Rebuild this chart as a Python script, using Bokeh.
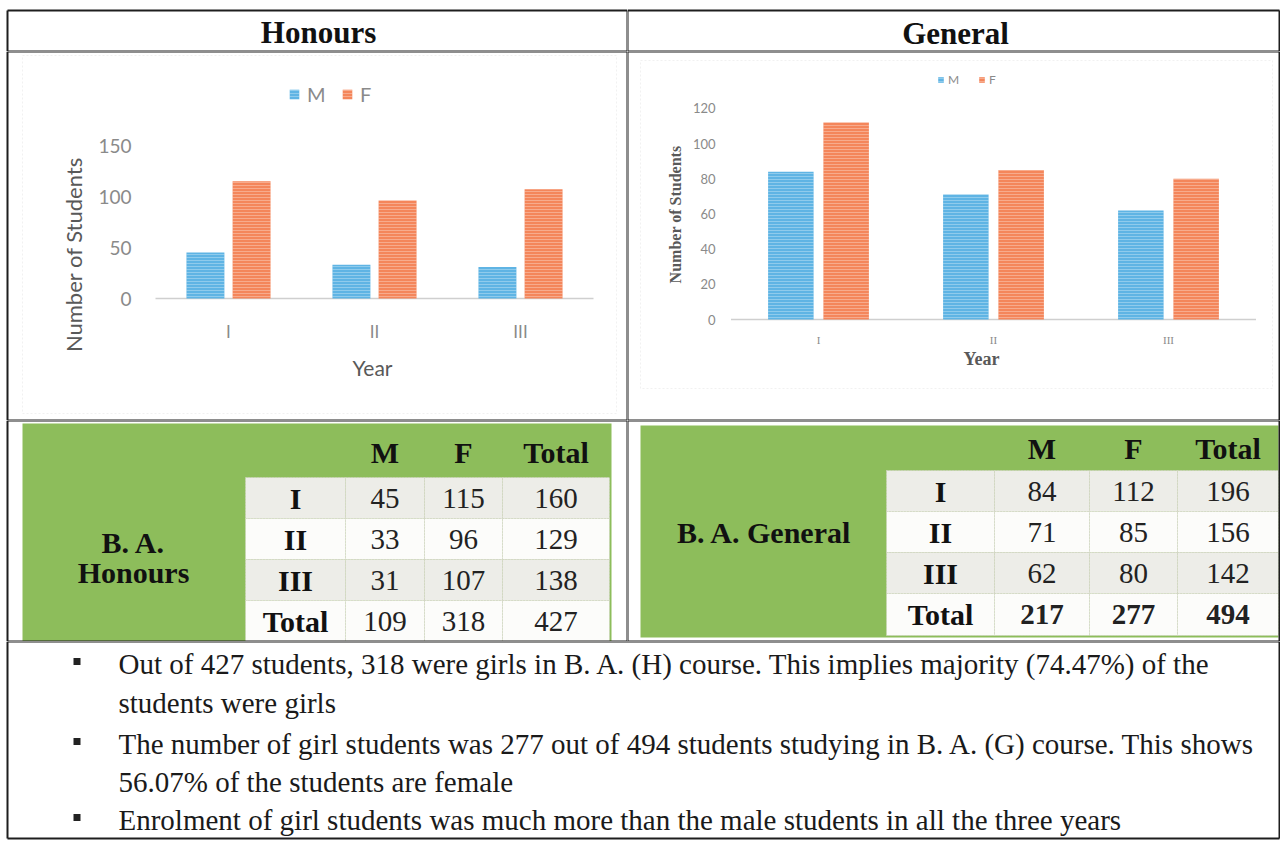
import math
from bokeh.plotting import figure
from bokeh.models import (Range1d, LinearAxis, FixedTicker, Legend, LegendItem,
                          Label, BoxAnnotation, ColumnDataSource)
from bokeh.layouts import column, row
from bokeh.transform import dodge
from bokeh.core.properties import value
from bokeh.embed import file_html
from bokeh.resources import INLINE

# ---------------- data ----------------
years = ["I", "II", "III"]
hons_m = [45, 33, 31]
hons_f = [115, 96, 107]
gen_m = [84, 71, 62]
gen_f = [112, 85, 80]
hons_ticks = [0, 50, 100, 150]
gen_ticks = [0, 20, 40, 60, 80, 100, 120]
series_labels = ["M", "F"]
table_cols = ["M", "F", "Total"]
headers = ["Honours", "General"]
hons_title = ["B. A.", "Honours"]
gen_title = ["B. A. General"]
bullet_lines = [
    "Out of 427 students, 318 were girls in B. A. (H) course. This implies majority (74.47%) of the",
    "students were girls",
    "The number of girl students was 277 out of 494 students studying in B. A. (G) course. This shows",
    "56.07% of the students are female",
    "Enrolment of girl students was much more than the male students in all the three years",
]
bullet_on = [True, False, True, False, True]

# ---------------- style ----------------
M_COLOR = "#5fb4e4"
F_COLOR = "#f4865b"
GREEN = "#8dbd5b"
SERIF = "Liberation Serif"
SANS = "Lato"
RULE = "#1e1e1e"

# page geometry (page pixels, figures tile the page from 0,0)
X0, XM, X1 = 0, 627, 1280
Y0, YA, YB, YC, Y1 = 0, 51, 420, 641, 841
BL, BR, BT, BB = 7, 1279, 10, 838        # outer border of the table


def base_fig(w, h, xr, yr):
    p = figure(width=w, height=h, x_range=xr, y_range=yr,
               output_backend="svg", toolbar_location=None,
               x_axis_location=None, y_axis_location=None,
               min_border=0, background_fill_color="white",
               border_fill_color="white", outline_line_color=None)
    p.xgrid.grid_line_color = None
    p.ygrid.grid_line_color = None
    return p


def page_fig(x0, x1, y0, y1):
    # data coordinates == page pixel coordinates (y downward)
    return base_fig(x1 - x0, y1 - y0, Range1d(x0, x1), Range1d(y1, y0))


def rules(p, segs, width=2, color=RULE):
    if not segs:
        return
    p.segment(x0=[s[0] for s in segs], y0=[s[1] for s in segs],
              x1=[s[2] for s in segs], y1=[s[3] for s in segs],
              line_color=color, line_width=width)


def cell_borders(p, x0, x1, y0, y1, conv=None):
    """draw the table rules that run along / inside a cell [x0,x1]x[y0,y1]"""
    segs = []
    top = max(y0, BT)
    bot = min(y1, BB)
    for xv in (BL, BR):
        if x0 <= xv <= x1:
            segs.append((xv, top, xv, bot))
    # the column divider only runs through the upper three rows
    if x0 <= XM <= x1 and top < YC:
        segs.append((XM, top, XM, min(bot, YC)))
    for yv in (BT, YA, YB, YC, BB):
        if y0 <= yv <= y1:
            segs.append((max(x0, BL), yv, min(x1, BR), yv))
    if conv is not None:
        fx, fy = conv
        segs = [(fx(a), fy(b), fx(c), fy(d)) for a, b, c, d in segs]
    rules(p, segs)


# ---------------- header ----------------
hdr_l = page_fig(X0, XM, Y0, YA)
hdr_l.text(x=[318], y=[32], text=[headers[0]], text_font=value(SERIF),
           text_font_size=value("31px"), text_font_style="bold",
           text_align="center", text_baseline="middle", text_color="#111111")
cell_borders(hdr_l, X0, XM, Y0, YA)
hdr_r = page_fig(XM, X1, Y0, YA)
hdr_r.text(x=[955], y=[33], text=[headers[1]], text_font=value(SERIF),
           text_font_size=value("31px"), text_font_style="bold",
           text_align="center", text_baseline="middle", text_color="#111111")
cell_borders(hdr_r, XM, X1, Y0, YA)


# ---------------- charts ----------------
def chart(x0, x1, y0, y1, cx0, cdx, by, upp, mvals, fvals, ticks, cfg):
    dx = lambda px: (px - cx0) / cdx
    dy = lambda py: (by - py) / upp
    p = base_fig(x1 - x0, y1 - y0, Range1d(dx(x0), dx(x1)), Range1d(dy(y1), dy(y0)))

    p.add_layout(BoxAnnotation(left=dx(cfg["frame"][0]), right=dx(cfg["frame"][1]),
                               top=dy(cfg["frame"][2]), bottom=dy(cfg["frame"][3]),
                               fill_color=None, line_color="#d2d2d2",
                               line_width=1, line_dash="2 2"))

    n = len(years)
    p.segment(x0=[-0.5], x1=[n - 0.5], y0=[0], y1=[0], line_color="#cfcfcf", line_width=1.5)

    src = ColumnDataSource(dict(x=list(range(n)), m=mvals, f=fvals))
    hatch = dict(hatch_pattern="horizontal_line", hatch_color="white",
                 hatch_alpha=0.3, hatch_scale=3, hatch_weight=1)
    rm = p.vbar(x=dodge("x", -0.158), top="m", width=0.26, source=src,
                fill_color=M_COLOR, line_color=None, **hatch)
    rf = p.vbar(x=dodge("x", 0.158), top="f", width=0.26, source=src,
                fill_color=F_COLOR, line_color=None, **hatch)

    yax = LinearAxis(ticker=FixedTicker(ticks=ticks), fixed_location=dx(cfg["yax_px"]),
                     axis_line_color=None, major_tick_line_color=None,
                     minor_tick_line_color=None, major_tick_in=0, major_tick_out=0,
                     major_label_standoff=4, major_label_text_font=cfg["tick_font"],
                     major_label_text_font_size=cfg["tick_size"],
                     major_label_text_color="#8a8a8a")
    p.add_layout(yax, "left")
    xax = LinearAxis(ticker=FixedTicker(ticks=list(range(n))),
                     major_label_overrides={i: y for i, y in enumerate(years)},
                     fixed_location=0, axis_line_color=None,
                     major_tick_line_color=None, minor_tick_line_color=None,
                     major_tick_in=0, major_tick_out=0,
                     major_label_standoff=cfg["cat_standoff"],
                     major_label_text_font=cfg["cat_font"],
                     major_label_text_font_size=cfg["cat_size"],
                     major_label_text_color="#8a8a8a")
    p.add_layout(xax, "below")

    p.add_layout(Label(x=dx(cfg["year_pos"][0]), y=dy(cfg["year_pos"][1]), text="Year",
                       text_align="center", text_baseline="middle",
                       text_font=cfg["title_font"], text_font_size=cfg["year_size"],
                       text_font_style=cfg["title_style"], text_color="#595959"))
    p.add_layout(Label(x=dx(cfg["ylab_pos"][0]), y=dy(cfg["ylab_pos"][1]),
                       text="Number of Students", angle=math.pi / 2,
                       text_align="center", text_baseline="middle",
                       text_font=cfg["title_font"], text_font_size=cfg["ylab_size"],
                       text_font_style=cfg["title_style"], text_color="#595959"))

    legend = Legend(items=[LegendItem(label=series_labels[0], renderers=[rm]),
                           LegendItem(label=series_labels[1], renderers=[rf])],
                    orientation="horizontal", location=cfg["legend_loc"],
                    glyph_width=cfg["glyph"], glyph_height=cfg["glyph"],
                    label_standoff=cfg["standoff"], spacing=cfg["spacing"],
                    padding=0, margin=0, border_line_color=None,
                    background_fill_alpha=0, label_text_font=SANS,
                    label_text_font_size=cfg["legend_size"],
                    label_text_color="#8a8a8a", label_height=cfg["glyph"])
    p.add_layout(legend)
    cell_borders(p, x0, x1, y0, y1, conv=(dx, dy))
    return p


ch_h = chart(X0, XM, YA, YB, 228, 146, 298, 1.02, hons_m, hons_f, hons_ticks,
             dict(frame=(22, 616, 55, 413), yax_px=135, tick_font=SANS, tick_size="19px",
                  cat_standoff=22, cat_font=SANS, cat_size="17px",
                  year_pos=(372, 367), year_size="21px", title_font=SANS, title_style="normal",
                  ylab_pos=(73, 254), ylab_size="22px",
                  legend_loc=(288, 314), glyph=12, standoff=7, spacing=14, legend_size="20px"))

ch_g = chart(XM, X1, YA, YB, 818, 175, 319, 1.76, gen_m, gen_f, gen_ticks,
             dict(frame=(640, 1272, 60, 388), yax_px=719, tick_font=SANS, tick_size="13px",
                  cat_standoff=14, cat_font=SERIF, cat_size="11px",
                  year_pos=(981, 358), year_size="18px", title_font=SERIF, title_style="bold",
                  ylab_pos=(675, 214), ylab_size="16px",
                  legend_loc=(310, 333), glyph=7, standoff=4, spacing=10, legend_size="12px"))


# ---------------- tables ----------------
def table(x0, x1, green, cols_x, rows_y, hdr_y, mvals, fvals, title_lines, title_pos,
          title_step, total_bold):
    p = page_fig(x0, x1, YB, YC)
    p.quad(left=[green[0]], right=[green[1]], top=[green[2]], bottom=[green[3]],
           fill_color=GREEN, line_color=None)
    lefts, rights, tops, bottoms, fills = [], [], [], [], []
    for r in range(len(rows_y) - 1):
        for c in range(len(cols_x) - 1):
            lefts.append(cols_x[c]); rights.append(cols_x[c + 1])
            tops.append(rows_y[r]); bottoms.append(rows_y[r + 1])
            fills.append("#edede8" if r % 2 == 0 else "#fcfcfa")
    p.quad(left=lefts, right=rights, top=tops, bottom=bottoms, fill_color=fills,
           line_color="#cfcfc0", line_width=1, line_dash="1 2")

    ccx = [(cols_x[i] + cols_x[i + 1]) / 2 for i in range(len(cols_x) - 1)]
    rcy = [(rows_y[i] + rows_y[i + 1]) / 2 for i in range(len(rows_y) - 1)]

    p.text(x=ccx[1:], y=[hdr_y] * 3, text=table_cols, text_font=value(SERIF),
           text_font_size=value("30px"), text_font_style="bold",
           text_align="center", text_baseline="middle", text_color="#111111")
    row_labels = years + ["Total"]
    p.text(x=[ccx[0]] * 4, y=rcy, text=row_labels, text_font=value(SERIF),
           text_font_size=value("30px"), text_font_style="bold",
           text_align="center", text_baseline="middle", text_color="#111111")
    tot = [m + f for m, f in zip(mvals, fvals)]
    body = [[str(a), str(b), str(c)] for a, b, c in zip(mvals, fvals, tot)]
    last = [str(sum(mvals)), str(sum(fvals)), str(sum(tot))]
    xs, ys, ts = [], [], []
    for r, vals in enumerate(body):
        for c, t in enumerate(vals):
            xs.append(ccx[c + 1]); ys.append(rcy[r]); ts.append(t)
    p.text(x=xs, y=ys, text=ts, text_font=value(SERIF), text_font_size=value("29px"),
           text_align="center", text_baseline="middle", text_color="#222222")
    p.text(x=ccx[1:], y=[rcy[3]] * 3, text=last, text_font=value(SERIF),
           text_font_size=value("29px"),
           text_font_style="bold" if total_bold else "normal",
           text_align="center", text_baseline="middle", text_color="#222222")
    p.text(x=[title_pos[0]] * len(title_lines),
           y=[title_pos[1] + i * title_step for i in range(len(title_lines))],
           text=title_lines, text_font=value(SERIF), text_font_size=value("30px"),
           text_font_style="bold", text_align="center", text_baseline="middle",
           text_color="#111111")
    cell_borders(p, x0, x1, YB, YC)
    return p


tb_h = table(X0, XM, (22, 611, 423, 641), [245, 345, 424, 502, 609],
             [477, 518, 559, 600, 641], 452, hons_m, hons_f, hons_title, (133, 542), 30, False)
tb_g = table(XM, X1, (640, 1278, 425, 637), [886, 994, 1089, 1177, 1278],
             [470, 511, 552, 593, 635], 448, gen_m, gen_f, gen_title, (764, 532), 0, True)

# ---------------- bullet text ----------------
txt = page_fig(X0, X1, YC, Y1)
centers = [663, 702, 743, 781, 819]
txt.text(x=[118] * len(bullet_lines), y=centers, text=bullet_lines,
         text_font=value(SERIF), text_font_size=value("29px"),
         text_align="left", text_baseline="middle", text_color="#1a1a1a")
bx = [76.5 for b in bullet_on if b]
by_ = [centers[i] - 2 for i, b in enumerate(bullet_on) if b]
txt.scatter(x=bx, y=by_, marker="square", size=7, fill_color="#222222", line_color=None)
cell_borders(txt, X0, X1, YC, Y1)

layout = column(row(hdr_l, hdr_r), row(ch_h, ch_g), row(tb_h, tb_g), txt)

open("out.html", "w").write(file_html(layout, INLINE))
